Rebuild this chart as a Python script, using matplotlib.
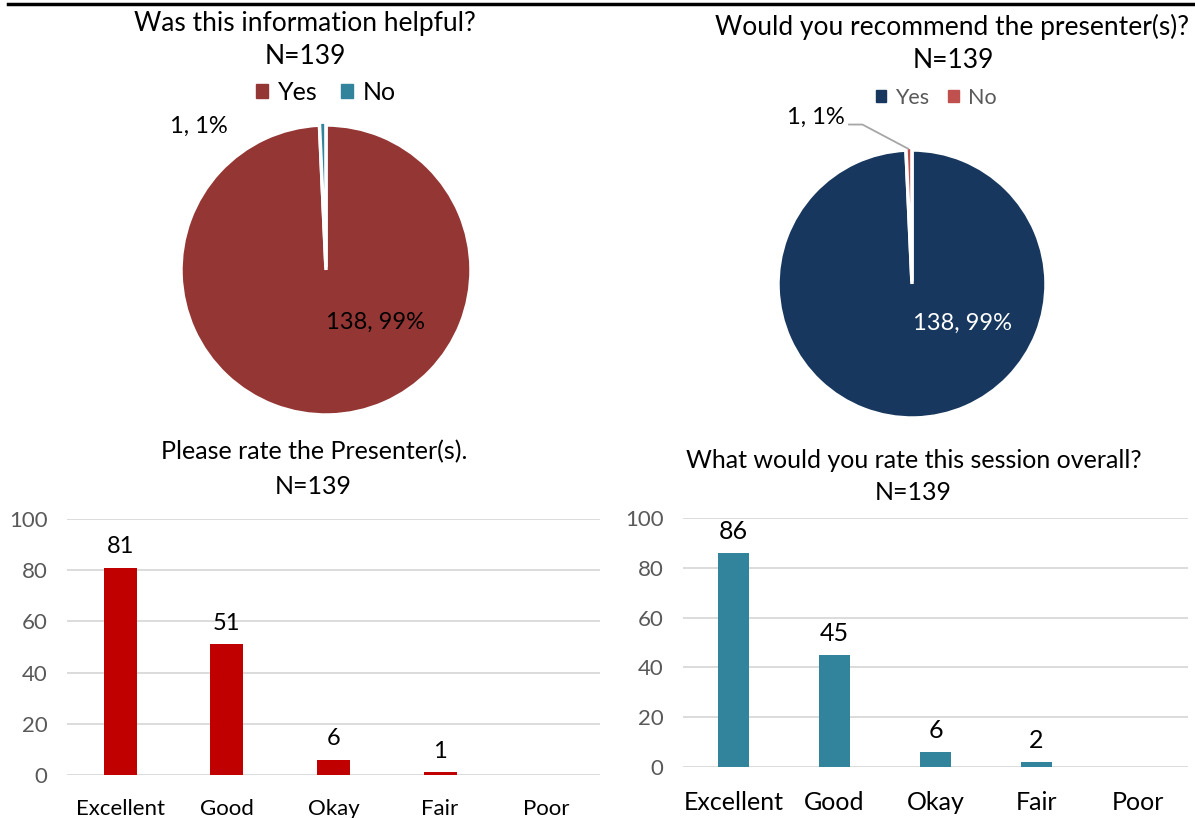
import matplotlib.pyplot as plt
from matplotlib.patches import Patch

plt.rcParams['font.family'] = ['Lato', 'DejaVu Sans']

# survey answers
yn_labels = ['Yes', 'No']
helpful_counts = [138, 1]
helpful_pcts = [99, 1]
recommend_counts = [138, 1]
recommend_pcts = [99, 1]

rating_labels = ['Excellent', 'Good', 'Okay', 'Fair', 'Poor']
presenter_ratings = [81, 51, 6, 1, 0]
session_ratings = [86, 45, 6, 2, 0]

W, H = 1195, 818
fig = plt.figure(figsize=(W / 100, H / 100), dpi=100)


def box(x0, y0, x1, y1):
    # pixel box (top-left origin) -> figure fraction rect
    return [x0 / W, 1 - y1 / H, (x1 - x0) / W, (y1 - y0) / H]


def ftext(x, y, s, **kw):
    fig.text(x / W, 1 - y / H, s, ha='center', va='center', **kw)


# rule across the top
fig.add_artist(plt.Line2D([8 / W, 1], [1 - 4 / H, 1 - 4 / H], color='black', lw=2.5))


def pie_panel(rect, counts, colors, legend_xy, legend_color, legend_size):
    ax = fig.add_axes(rect)
    ax.pie(counts, colors=colors, startangle=90, counterclock=False,
           explode=[0, 0.02], wedgeprops=dict(edgecolor='white', linewidth=2.5))
    ax.set_xlim(-1, 1)
    ax.set_ylim(-1, 1)
    ax.set_aspect('equal')
    handles = [Patch(color=c) for c in colors]
    fig.legend(handles, yn_labels, loc='center', bbox_to_anchor=legend_xy, ncol=2,
               frameon=False, handlelength=0.5, handleheight=0.5, handletextpad=0.4,
               columnspacing=0.9, prop=dict(size=legend_size), labelcolor=legend_color)
    return ax


ax1 = pie_panel(box(181, 125, 471, 415), helpful_counts,
                ['#943634', '#31849B'], (326 / W, 1 - 92 / H), 'black', 18)
ftext(305, 23, 'Was this information helpful?', fontsize=19)
ftext(305, 57, 'N=139', fontsize=19)
ax1.text(0.34, -0.36, f'{helpful_counts[0]}, {helpful_pcts[0]}%', fontsize=17,
         ha='center', va='center', color='black')
ax1.text(-0.88, 0.99, f'{helpful_counts[1]}, {helpful_pcts[1]}%', fontsize=17,
         ha='center', va='center', color='black')

ax2 = pie_panel(box(778, 150, 1046, 418), recommend_counts,
                ['#17375E', '#C0504D'], (936 / W, 1 - 98 / H), '#595959', 15.5)
ftext(952, 27, 'Would you recommend the presenter(s)?', fontsize=19)
ftext(953, 61, 'N=139', fontsize=19)
ax2.text(0.38, -0.29, f'{recommend_counts[0]}, {recommend_pcts[0]}%', fontsize=17,
         ha='center', va='center', color='white')
ax2.text(-0.72, 1.24, f'{recommend_counts[1]}, {recommend_pcts[1]}%', fontsize=17,
         ha='center', va='center', color='black')
ax2.plot([-0.47, -0.37, -0.03], [1.19, 1.19, 1.01], color='#A6A6A6', lw=1.3, clip_on=False)


def bar_panel(rect, values, color, tick_size, value_size):
    ax = fig.add_axes(rect)
    x = range(len(values))
    bars = ax.bar(x, values, width=0.31, color=color, zorder=3)
    for b, v in zip(bars, values):
        if v > 0:
            ax.text(b.get_x() + b.get_width() / 2, v + 4, str(v), ha='center', va='bottom',
                    fontsize=value_size, color='black')
    ax.set_xlim(-0.5, len(values) - 0.5)
    ax.set_ylim(0, 100)
    ax.set_yticks(range(0, 101, 20))
    ax.set_xticks(list(x))
    ax.set_xticklabels(rating_labels, fontsize=tick_size, color='black')
    ax.tick_params(axis='y', labelsize=16, labelcolor='#595959', length=0, pad=14)
    ax.tick_params(axis='x', length=0, pad=17)
    ax.grid(axis='y', color='#D9D9D9', lw=1.3, zorder=0)
    for s in ax.spines.values():
        s.set_visible(False)
    return ax


bar_panel(box(67, 519, 600, 775), presenter_ratings, '#C00000', 16, 17)
ftext(314, 452, 'Please rate the Presenter(s).', fontsize=18)
ftext(313, 486, 'N=139', fontsize=18)

bar_panel(box(683, 518, 1188, 767), session_ratings, '#31849B', 18, 18)
ftext(914, 461, 'What would you rate this session overall?', fontsize=18)
ftext(913, 493, 'N=139', fontsize=18)

fig.savefig('out.png', dpi=100)
